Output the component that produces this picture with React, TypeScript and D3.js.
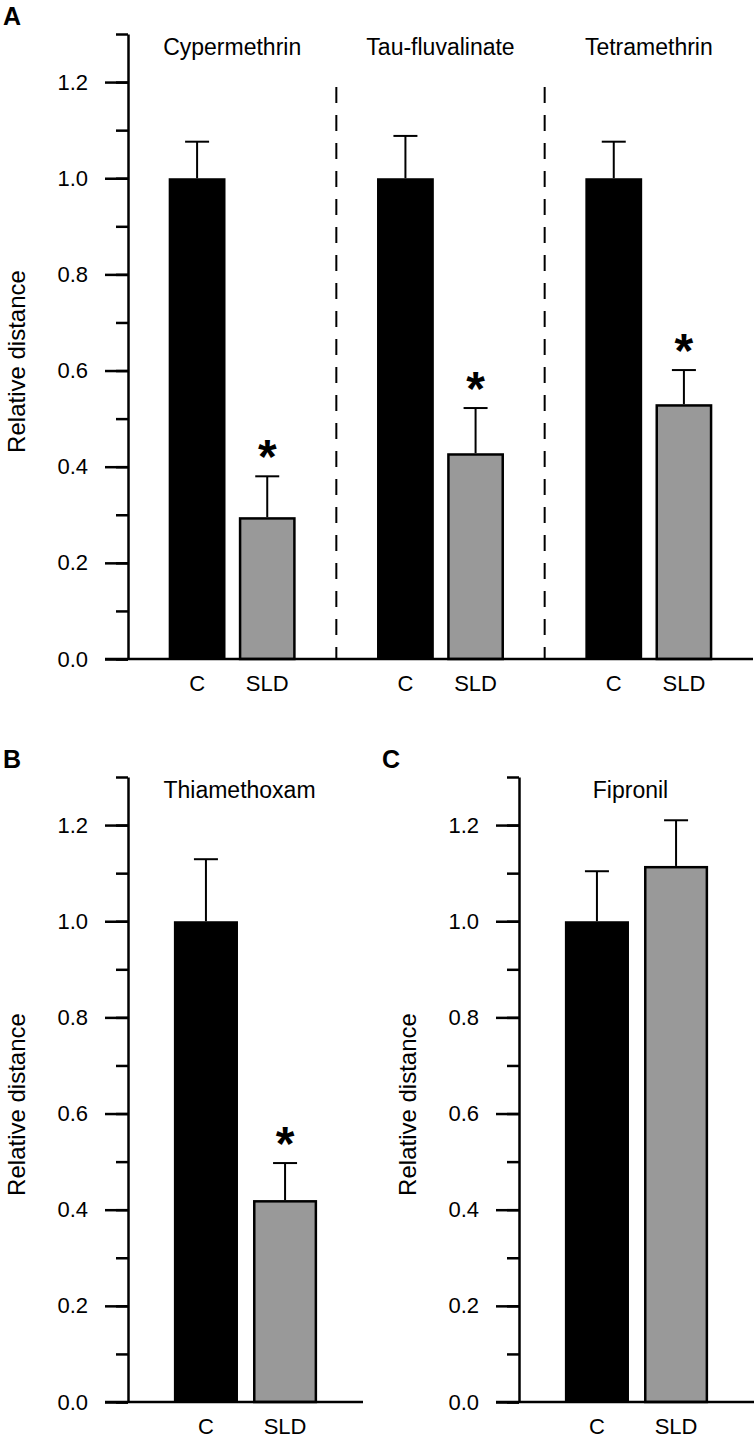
import React, { useEffect, useRef } from 'react';
import * as d3 from 'd3';

const FONT = '"Liberation Sans", Arial, Helvetica, sans-serif';

// treatments shown in every group
const treatments = ['C', 'SLD'];

// panel A: pyrethroids
const pyrGroups = ['Cypermethrin', 'Tau-fluvalinate', 'Tetramethrin'];
const pyrControl = [1.0, 1.0, 1.0];
const pyrControlErr = [0.076, 0.088, 0.076];
const pyrSld = [0.295, 0.428, 0.53];
const pyrSldErr = [0.085, 0.094, 0.071];
const pyrSignif = [true, true, true];

// panel B: neonicotinoid
const thiaGroups = ['Thiamethoxam'];
const thiaControl = [1.0];
const thiaControlErr = [0.129];
const thiaSld = [0.42];
const thiaSldErr = [0.077];
const thiaSignif = [true];

// panel C: phenylpyrazole
const fipGroups = ['Fipronil'];
const fipControl = [1.0];
const fipControlErr = [0.104];
const fipSld = [1.115];
const fipSldErr = [0.095];
const fipSignif = [false];

const majorTicks = [0, 0.2, 0.4, 0.6, 0.8, 1.0, 1.2];
const minorTicks = [0, 0.1, 0.2, 0.3, 0.4, 0.5, 0.6, 0.7, 0.8, 0.9, 1.0, 1.1, 1.2, 1.3];

const panels = [
  {
    letter: 'A', letterX: 3, groups: pyrGroups, control: pyrControl, controlErr: pyrControlErr,
    sld: pyrSld, sldErr: pyrSldErr, signif: pyrSignif,
    x0: 128, x1: 753, yBottom: 659, yTop: 34, labelX: 25, titleShift: 0, dashed: true,
  },
  {
    letter: 'B', letterX: 3, groups: thiaGroups, control: thiaControl, controlErr: thiaControlErr,
    sld: thiaSld, sldErr: thiaSldErr, signif: thiaSignif,
    x0: 128, x1: 363, yBottom: 1402, yTop: 777, labelX: 25, titleShift: -6, dashed: false,
  },
  {
    letter: 'C', letterX: 382, groups: fipGroups, control: fipControl, controlErr: fipControlErr,
    sld: fipSld, sldErr: fipSldErr, signif: fipSignif,
    x0: 519, x1: 754, yBottom: 1402, yTop: 777, labelX: 416, titleShift: -6, dashed: false,
  },
];

function drawPanel(svg, p) {
  const g = svg.append('g');
  const y = d3.scaleLinear().domain([0, 1.3]).range([p.yBottom, p.yTop]);
  const outer = d3.scaleBand().domain(p.groups).range([p.x0, p.x1]).padding(0);
  const inner = d3.scaleBand().domain(treatments)
    .range([0, outer.bandwidth()])
    .paddingInner(0.19)
    .paddingOuter(0.58);

  // dashed separators between groups
  if (p.dashed) {
    g.selectAll('.sep')
      .data(p.groups.slice(1))
      .enter()
      .append('line')
      .attr('x1', d => outer(d))
      .attr('x2', d => outer(d))
      .attr('y1', y(1.19))
      .attr('y2', p.yBottom)
      .attr('stroke', '#000')
      .attr('stroke-width', 2)
      .attr('stroke-dasharray', '16,12');
  }

  const rows = [];
  p.groups.forEach((grp, i) => {
    rows.push({ grp, t: 'C', v: p.control[i], e: p.controlErr[i], sig: false });
    rows.push({ grp, t: 'SLD', v: p.sld[i], e: p.sldErr[i], sig: p.signif[i] });
  });
  const cx = d => outer(d.grp) + inner(d.t) + inner.bandwidth() / 2;

  // error bars
  g.selectAll('.whisker')
    .data(rows)
    .enter()
    .append('line')
    .attr('x1', cx).attr('x2', cx)
    .attr('y1', d => y(d.v)).attr('y2', d => y(d.v + d.e))
    .attr('stroke', '#000').attr('stroke-width', 2);
  g.selectAll('.cap')
    .data(rows)
    .enter()
    .append('line')
    .attr('x1', d => cx(d) - 12).attr('x2', d => cx(d) + 12)
    .attr('y1', d => y(d.v + d.e)).attr('y2', d => y(d.v + d.e))
    .attr('stroke', '#000').attr('stroke-width', 2);

  // bars
  g.selectAll('.bar')
    .data(rows)
    .enter()
    .append('rect')
    .attr('x', d => outer(d.grp) + inner(d.t) + (d.t === 'SLD' ? 1.25 : 0))
    .attr('y', d => y(d.v) + (d.t === 'SLD' ? 1.25 : 0))
    .attr('width', d => inner.bandwidth() - (d.t === 'SLD' ? 2.5 : 0))
    .attr('height', d => p.yBottom - y(d.v) - (d.t === 'SLD' ? 1.25 : 0))
    .attr('fill', d => (d.t === 'C' ? '#000' : '#999999'))
    .attr('stroke', d => (d.t === 'C' ? 'none' : '#000'))
    .attr('stroke-width', 2.5);

  // significance asterisks
  g.selectAll('.star')
    .data(rows.filter(d => d.sig))
    .enter()
    .append('text')
    .attr('x', cx)
    .attr('y', d => y(d.v + d.e) - 3)
    .attr('text-anchor', 'middle')
    .attr('font-family', FONT)
    .attr('font-weight', 'bold')
    .attr('font-size', 48)
    .text('*');

  // x baseline
  g.append('line')
    .attr('x1', p.x0 - 23).attr('x2', p.x1)
    .attr('y1', p.yBottom).attr('y2', p.yBottom)
    .attr('stroke', '#000').attr('stroke-width', 2.5);

  // y axis: minor ticks + domain, then labelled major ticks
  const minor = g.append('g')
    .attr('transform', `translate(${p.x0},0)`)
    .call(d3.axisLeft(y).tickValues(minorTicks).tickSize(12).tickSizeOuter(0).tickFormat(() => ''));
  minor.selectAll('path, line').attr('stroke', '#000').attr('stroke-width', 2.5);

  const major = g.append('g')
    .attr('transform', `translate(${p.x0},0)`)
    .call(d3.axisLeft(y).tickValues(majorTicks).tickSize(23).tickPadding(17).tickFormat(d3.format('.1f')));
  major.select('.domain').remove();
  major.selectAll('line').attr('stroke', '#000').attr('stroke-width', 2.5);
  major.selectAll('text')
    .attr('font-family', FONT)
    .attr('font-size', 22)
    .attr('fill', '#000');

  // category labels under bars
  g.selectAll('.xlab')
    .data(rows)
    .enter()
    .append('text')
    .attr('x', cx)
    .attr('y', p.yBottom + 32)
    .attr('text-anchor', 'middle')
    .attr('font-family', FONT)
    .attr('font-size', 22)
    .text(d => d.t);

  // group titles
  g.selectAll('.title')
    .data(p.groups)
    .enter()
    .append('text')
    .attr('x', d => outer(d) + outer.bandwidth() / 2 + p.titleShift)
    .attr('y', p.yTop + 21)
    .attr('text-anchor', 'middle')
    .attr('font-family', FONT)
    .attr('font-size', 23)
    .text(d => d);

  // y axis label
  g.append('text')
    .attr('transform', `translate(${p.labelX},${(p.yTop + p.yBottom) / 2 + 15}) rotate(-90)`)
    .attr('text-anchor', 'middle')
    .attr('font-family', FONT)
    .attr('font-size', 24)
    .text('Relative distance');

  // panel letter
  g.append('text')
    .attr('x', p.letterX)
    .attr('y', p.yTop - 9)
    .attr('font-family', FONT)
    .attr('font-weight', 'bold')
    .attr('font-size', 25)
    .text(p.letter);
}

export default function App() {
  const svgRef = useRef(null);

  useEffect(() => {
    const svg = d3.select(svgRef.current);
    svg.selectAll('*').remove();
    panels.forEach(p => drawPanel(svg, p));
  }, []);

  return (
    <svg
      ref={svgRef}
      width={755}
      height={1440}
      style={{ position: 'absolute', left: 0, top: 0, background: '#fff' }}
    />
  );
}
